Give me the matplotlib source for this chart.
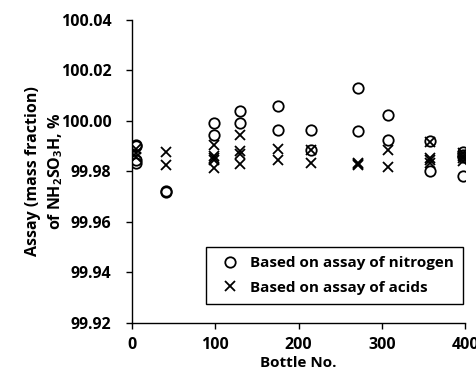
import matplotlib
matplotlib.use("Agg")
from matplotlib import pyplot as plt

plt.rcParams['font.family'] = ['Open Sans', 'DejaVu Sans']
plt.rcParams['font.weight'] = 'bold'
plt.rcParams['mathtext.fontset'] = 'custom'
plt.rcParams['mathtext.rm'] = 'Open Sans:bold'
plt.rcParams['mathtext.default'] = 'rm'

# assay based on nitrogen (circles)
bottle_n = [5, 5, 5, 5, 41, 41, 98, 98, 130, 130, 175, 175, 215, 215,
            271, 271, 308, 308, 358, 358, 398, 398, 398, 398]
assay_n = [99.9905, 99.9900, 99.9845, 99.9835, 99.9723, 99.9718,
           99.9992, 99.9945, 100.0040, 99.9990, 100.0059, 99.9964,
           99.9962, 99.9886, 100.0132, 99.9960, 100.0024, 99.9925,
           99.9920, 99.9800, 99.9875, 99.9865, 99.9858, 99.9780]

# assay based on acids (crosses)
bottle_a = [5, 5, 5, 41, 41, 98, 98, 98, 98, 98, 130, 130, 130, 130,
            175, 175, 215, 215, 271, 271, 271, 308, 308,
            358, 358, 358, 358, 398, 398, 398, 398]
assay_a = [99.9890, 99.9872, 99.9855, 99.9877, 99.9825,
           99.9905, 99.9862, 99.9852, 99.9845, 99.9812,
           99.9945, 99.9882, 99.9870, 99.9830,
           99.9890, 99.9845, 99.9884, 99.9832,
           99.9835, 99.9830, 99.9826, 99.9885, 99.9818,
           99.9915, 99.9852, 99.9845, 99.9835,
           99.9872, 99.9862, 99.9852, 99.9840]

fig = plt.figure(figsize=(4.77, 3.75), dpi=100)
ax = fig.add_axes([0.277, 0.139, 0.698, 0.808])

ax.plot(bottle_n, assay_n, 'o', mfc='none', mec='black', ms=7.5, mew=1.3,
        label='Based on assay of nitrogen')
ax.plot(bottle_a, assay_a, 'x', color='black', ms=7.5, mew=1.3,
        label='Based on assay of acids')

ax.set_xlim(0, 400)
ax.set_ylim(99.92, 100.04)
ax.set_xticks([0, 100, 200, 300, 400])
ax.set_yticks([99.92, 99.94, 99.96, 99.98, 100.00, 100.02, 100.04])
ax.set_yticklabels(['99.92', '99.94', '99.96', '99.98', '100.00', '100.02', '100.04'])
ax.tick_params(labelsize=11.5, width=1, length=4, color='black')
ax.tick_params(axis='x', pad=6)
ax.tick_params(axis='y', pad=11)
for s in ['top', 'right']:
    ax.spines[s].set_visible(False)
for s in ['left', 'bottom']:
    ax.spines[s].set_linewidth(1)

ax.set_xlabel('Bottle No.', fontsize=11, fontweight='bold', labelpad=2)
ax.set_ylabel('Assay (mass fraction)\nof NH$_2$SO$_3$H, %', fontsize=11.5,
              fontweight='bold', labelpad=-3, linespacing=1.35)

leg = ax.legend(loc='lower right', bbox_to_anchor=(0.994, 0.063), fontsize=11,
                frameon=True, fancybox=False, edgecolor='black', framealpha=1,
                handletextpad=0.29, borderpad=0.6, labelspacing=0.67,
                handlelength=2.0, borderaxespad=0)
leg.get_frame().set_linewidth(1)

plt.savefig('out.png', dpi=100)
